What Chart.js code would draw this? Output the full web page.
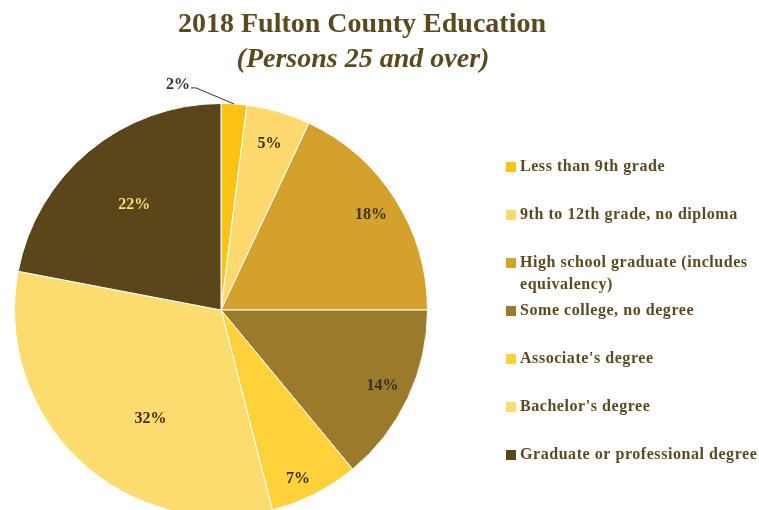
<!DOCTYPE html>
<html>
<head>
<meta charset="utf-8">
<script src="https://cdn.jsdelivr.net/npm/chart.js@4"></script>
<style>
  html, body { margin: 0; padding: 0; background: #fff; overflow: hidden; }
  #wrap { width: 759px; height: 510px; overflow: hidden; position: relative; }
  canvas { display: block; }
</style>
</head>
<body>
<div id="wrap"><canvas id="c" width="759" height="530"></canvas></div>
<script>
// Educational attainment, Fulton County 2018 (persons 25 and over), in percent
const categories = [
  "Less than 9th grade",
  "9th to 12th grade, no diploma",
  "High school graduate (includes equivalency)",
  "Some college, no degree",
  "Associate's degree",
  "Bachelor's degree",
  "Graduate or professional degree"
];
const shares = [2, 5, 18, 14, 7, 32, 22];
const sliceColors = ["#FCC214", "#FDD96E", "#D4A22C", "#9C7A2C", "#FFD13A", "#FCDB6F", "#5B461C"];
const labelColors = ["#3a3020", "#3a3020", "#3a3020", "#3a3020", "#3a3020", "#3a3020", "#FCDB6F"];

const titleText = "2018 Fulton County Education";
const subtitleText = "(Persons 25 and over)";

// where each percentage sits inside its slice: fraction of radius, fraction of the slice's sweep
const labelRadius = [null, 0.84, 0.86, 0.865, 0.90, 0.63, 0.66];
const labelSweep = [0.5, 0.5, 0.5, 0.5, 0.6, 0.41, 0.5];

const SERIF = '"Liberation Serif", "DejaVu Serif", serif';
const BROWN = "#5C4A1F";

const decorations = {
  id: "decorations",
  afterDraw(chart) {
    const ctx = chart.ctx;
    const meta = chart.getDatasetMeta(0);
    ctx.save();

    // heading
    ctx.fillStyle = BROWN;
    ctx.textAlign = "center";
    ctx.textBaseline = "middle";
    ctx.font = "bold 28px " + SERIF;
    ctx.fillText(titleText, 362, 25);
    ctx.font = "italic bold 28px " + SERIF;
    ctx.fillText(subtitleText, 363, 60);

    // percentage labels
    ctx.font = "bold 16px " + SERIF;
    meta.data.forEach((arc, i) => {
      const p = arc.getProps(["x", "y", "startAngle", "endAngle", "outerRadius"], true);
      const a = p.startAngle + (p.endAngle - p.startAngle) * labelSweep[i];
      const text = shares[i] + "%";
      if (labelRadius[i] === null) {
        // small slice: label outside with a leader line
        const ax = p.x + Math.cos(a) * p.outerRadius;
        const ay = p.y + Math.sin(a) * p.outerRadius;
        const ex = ax - 38, ey = ay - 16;
        ctx.strokeStyle = "#3a3020";
        ctx.lineWidth = 1;
        ctx.beginPath();
        ctx.moveTo(ax, ay);
        ctx.lineTo(ex, ey);
        ctx.lineTo(ex - 5, ey);
        ctx.stroke();
        ctx.fillStyle = labelColors[i];
        ctx.textAlign = "right";
        ctx.textBaseline = "alphabetic";
        ctx.fillText(text, ex - 6, ey + 1);
      } else {
        const r = p.outerRadius * labelRadius[i];
        ctx.fillStyle = labelColors[i];
        ctx.textAlign = "center";
        ctx.textBaseline = "middle";
        ctx.fillText(text, p.x + Math.cos(a) * r, p.y + Math.sin(a) * r);
      }
    });

    // legend
    const boxX = 506, textX = 520, firstY = 167, step = 48, lineH = 22, wrapW = 244;
    ctx.font = "bold 16px " + SERIF;
    ctx.letterSpacing = "0.55px";
    ctx.textAlign = "left";
    ctx.textBaseline = "middle";
    categories.forEach((name, i) => {
      const y = firstY + i * step;
      ctx.fillStyle = sliceColors[i];
      ctx.fillRect(boxX, y - 5, 10, 10);
      ctx.fillStyle = BROWN;
      const words = name.split(" ");
      let line = "", lines = [];
      words.forEach(w => {
        const test = line ? line + " " + w : w;
        if (ctx.measureText(test).width > wrapW && line) { lines.push(line); line = w; }
        else line = test;
      });
      lines.push(line);
      lines.forEach((ln, k) => ctx.fillText(ln, textX, y + k * lineH));
    });
    ctx.restore();
  }
};

new Chart(document.getElementById("c"), {
  type: "pie",
  data: {
    labels: categories,
    datasets: [{
      data: shares,
      backgroundColor: sliceColors,
      borderColor: "#ffffff",
      borderWidth: 1
    }]
  },
  options: {
    responsive: false,
    devicePixelRatio: 1,
    animation: false,
    layout: { padding: { left: 14, right: 331, top: 103, bottom: 13 } },
    plugins: {
      legend: { display: false },
      tooltip: { enabled: false },
      title: { display: false }
    }
  },
  plugins: [decorations]
});
</script>
</body>
</html>
